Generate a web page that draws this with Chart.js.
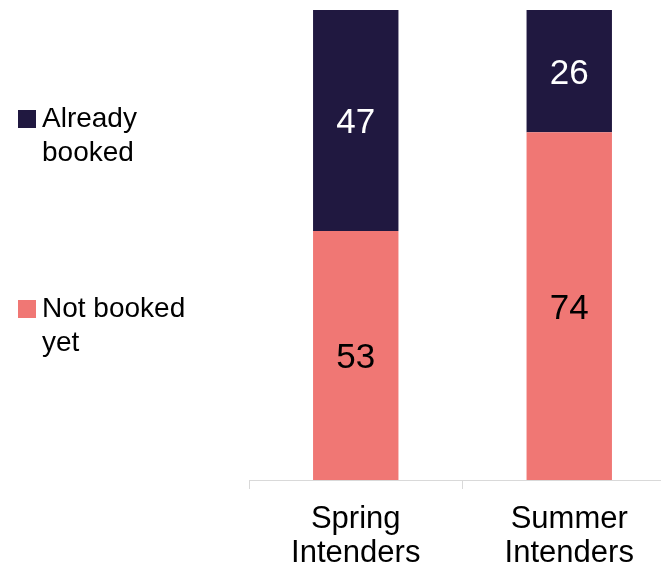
<!DOCTYPE html>
<html>
<head>
<meta charset="utf-8">
<script src="https://cdn.jsdelivr.net/npm/chart.js@4"></script>
<style>
  html, body { margin: 0; padding: 0; background: #fff; overflow: hidden; }
  #wrap { position: relative; width: 676px; height: 567px; }
</style>
</head>
<body>
<div id="wrap"><canvas id="bookingChart"></canvas></div>
<script>
const categories = [['Spring', 'Intenders'], ['Summer', 'Intenders']];
const notBooked = [53, 74];
const alreadyBooked = [47, 26];
const seriesLabels = [['Not booked', 'yet'], ['Already', 'booked']];
const seriesColors = ['#f07774', '#201840'];
const labelColors = ['#000000', '#ffffff'];

const FONT = '"Liberation Sans", Arial, sans-serif';

// values written in the middle of each bar segment
const valueLabels = {
    id: 'valueLabels',
    afterDatasetsDraw(chart) {
        const ctx = chart.ctx;
        const size = 35;
        ctx.save();
        ctx.font = `${size}px ${FONT}`;
        ctx.textAlign = 'center';
        ctx.textBaseline = 'alphabetic';
        chart.data.datasets.forEach((ds, i) => {
            chart.getDatasetMeta(i).data.forEach((bar, j) => {
                const mid = (bar.y + bar.base) / 2;
                ctx.fillStyle = labelColors[i];
                ctx.fillText(String(ds.data[j]), bar.x, mid + size * 0.358);
            });
        });
        ctx.restore();
    }
};

// legend on the left with wrapped text, top series first
const sideLegend = {
    id: 'sideLegend',
    afterDraw(chart) {
        const ctx = chart.ctx;
        ctx.save();
        ctx.font = `28px ${FONT}`;
        ctx.textBaseline = 'middle';
        ctx.textAlign = 'left';
        const tops = [309, 119];
        chart.data.datasets.forEach((ds, i) => {
            const y = tops[i];
            ctx.fillStyle = ds.backgroundColor;
            ctx.fillRect(18, y - 9, 18, 18);
            ctx.fillStyle = '#000';
            seriesLabels[i].forEach((line, k) => {
                ctx.fillText(line, 42, y + k * 34);
            });
        });
        ctx.restore();
    }
};

new Chart(document.getElementById('bookingChart'), {
    type: 'bar',
    data: {
        labels: categories,
        datasets: [
            { label: seriesLabels[0].join(' '), data: notBooked, backgroundColor: seriesColors[0] },
            { label: seriesLabels[1].join(' '), data: alreadyBooked, backgroundColor: seriesColors[1] }
        ]
    },
    options: {
        responsive: true,
        maintainAspectRatio: false,
        animation: false,
        layout: { padding: { left: 249, top: 10, right: 0, bottom: 0 } },
        datasets: {
            bar: { barPercentage: 1, categoryPercentage: 0.4 }
        },
        scales: {
            x: {
                stacked: true,
                afterFit: scale => { scale.height = 87; },
                grid: {
                    drawOnChartArea: false,
                    tickLength: 9,
                    color: '#d9d9d9'
                },
                border: { color: '#d9d9d9' },
                ticks: {
                    color: '#000',
                    padding: 13,
                    font: { family: FONT, size: 31, lineHeight: 1.1 }
                }
            },
            y: {
                stacked: true,
                display: false,
                min: 0,
                max: 100
            }
        },
        plugins: {
            legend: { display: false },
            tooltip: { enabled: false }
        }
    },
    plugins: [valueLabels, sideLegend]
});
</script>
</body>
</html>
